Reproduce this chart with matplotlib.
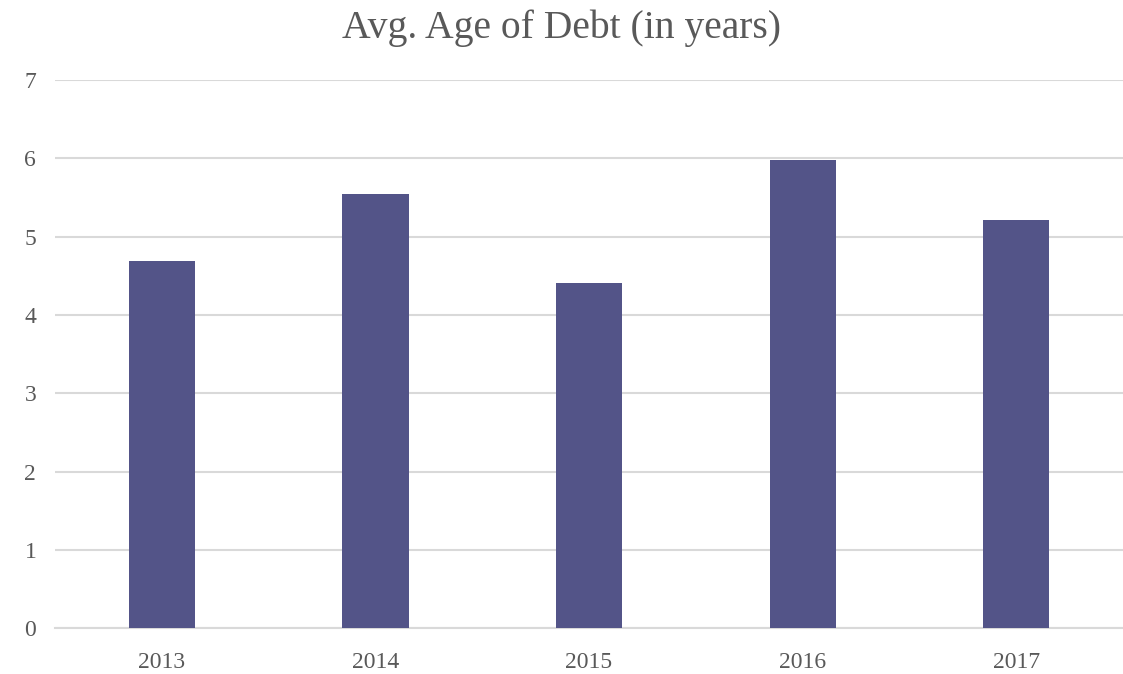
import matplotlib
matplotlib.use("Agg")
import matplotlib.pyplot as plt
import numpy as np

years = ["2013", "2014", "2015", "2016", "2017"]
avg_age = [4.69, 5.54, 4.41, 5.98, 5.22]

plt.rcParams["font.family"] = ["Liberation Serif", "DejaVu Serif"]

fig = plt.figure(figsize=(11.23, 6.74), dpi=100)
ax = fig.add_axes([0.049, 0.068, 0.951, 0.813])

x = np.arange(len(years))
ax.bar(x, avg_age, width=0.31, color="#535488", zorder=3)

ax.set_xlim(-0.5, len(years) - 0.5)
ax.set_ylim(0, 7)
ax.set_yticks(range(0, 8))
ax.set_xticks(x)
ax.set_xticklabels(years)
ax.yaxis.grid(True, color="#d9d9d9", linewidth=1.5, zorder=0)
ax.tick_params(axis="both", length=0, labelsize=17, colors="#595959")
ax.tick_params(axis="x", pad=17)
ax.tick_params(axis="y", pad=22)
for lab in ax.get_yticklabels():
    lab.set_horizontalalignment("left")
for side in ["top", "right", "left"]:
    ax.spines[side].set_visible(False)
ax.spines["bottom"].set_color("#d9d9d9")
ax.spines["bottom"].set_linewidth(1.5)

fig.text(0.5, 0.958, "Avg. Age of Debt (in years)", ha="center", va="center",
         fontsize=28.5, color="#595959")

fig.savefig("out.png", dpi=100)
